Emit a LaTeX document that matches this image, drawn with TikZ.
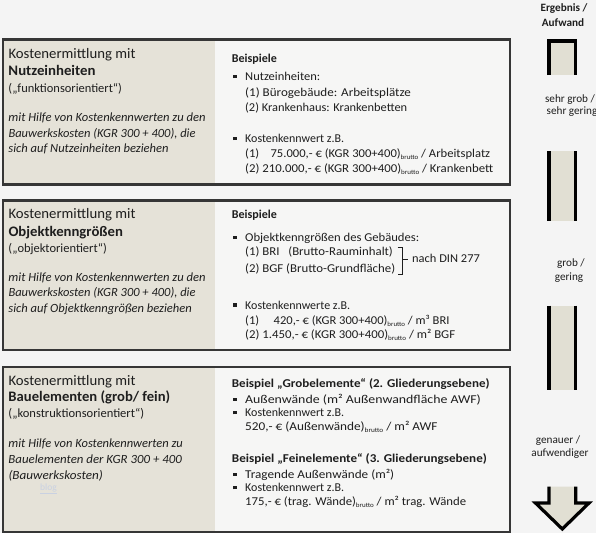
\documentclass[tikz,border=0pt]{standalone}
\usepackage{fontspec}
\usepackage{calc}
\usepackage{graphicx}
\setmainfont{Carlito}
\definecolor{bg}{HTML}{F4F4F4}
\definecolor{beige}{HTML}{E5E2D8}
\definecolor{arrowfill}{HTML}{E1DFD3}
\definecolor{panel}{HTML}{F6F6F5}
\definecolor{frame}{HTML}{363636}
\definecolor{ink}{HTML}{1E1E1E}
\definecolor{wm}{HTML}{C9D1E2}
\newcommand\brt{\raisebox{-2pt}{\fontsize{6.6}{6}\selectfont brutto}}
\newcommand\sqb{\makebox[12pt][l]{\raisebox{2.4pt}{\rule{3.3pt}{3.3pt}}}}
\newcommand\fitw[2]{\resizebox{#1pt}{\height}{#2}}
\tikzset{
  frm/.style={draw=frame, line width=2.2pt},
  ltxt/.style={anchor=base west, inner sep=0pt, text=ink, font=\fontsize{12.5}{14}\selectfont},
  litx/.style={ltxt, font=\fontsize{12.5}{14}\selectfont\itshape},
  lhead/.style={ltxt, font=\fontsize{14.5}{16}\selectfont},
  lbold/.style={ltxt, font=\fontsize{14.5}{16}\selectfont\bfseries},
  rtxt/.style={anchor=base west, inner sep=0pt, text=ink, font=\fontsize{12}{13}\selectfont},
  rbold/.style={rtxt, font=\fontsize{12}{13}\selectfont\bfseries},
  atxt/.style={anchor=base, inner sep=0pt, text=ink, font=\fontsize{11.2}{13}\selectfont},
  abold/.style={atxt, font=\fontsize{11.2}{13}\selectfont\bfseries},
  shaft/.style={draw=black, line width=3.2pt},
  shaftfill/.style={fill=arrowfill, draw=none},
}
\begin{document}
\begin{tikzpicture}[x=1pt,y=-1pt]
\useasboundingbox (0,0) rectangle (596,533);
\fill[bg] (0,0) rectangle (596,533);

% ---------- arrow column ----------
\filldraw[shaftfill] (549,41) -- (575.7,41) -- (575.7,75) -- (549,75) -- cycle;
\draw[shaft] (549,75) -- (549,41) -- (575.7,41) -- (575.7,75);
\filldraw[shaftfill] (549,151) -- (575.7,151) -- (575.7,221) -- (549,221) -- cycle;
\draw[shaft] (549,151) -- (549,221) (575.7,151) -- (575.7,221);
\filldraw[shaftfill] (549,305.7) -- (575.7,305.7) -- (575.7,390) -- (549,390) -- cycle;
\draw[shaft] (549,305.7) -- (549,390) (575.7,305.7) -- (575.7,390);
\filldraw[shaftfill] (549,486.7) -- (575.7,486.7) -- (575.7,503) -- (589,503) -- (562.3,529) -- (535.5,503) -- (549,503) -- cycle;
\draw[shaft] (549,486.7) -- (549,503) -- (535.5,503) -- (562.3,529) -- (589,503) -- (575.7,503) -- (575.7,486.7);

% ---------- boxes ----------
\foreach \tp/\bt in {39.5/184.5, 200.5/350.3, 367.2/531.7}{
  \fill[panel] (215,\tp) rectangle (509.7,\bt);
  \fill[beige] (2.7,\tp) rectangle (215,\bt);
  \draw[frm] (2.7,\tp) rectangle (509.7,\bt);
}

% ---------- box 1 ----------
\node[lhead] (a1) at (8.3,58.7) {\fitw{127}{Kostenermittlung mit}};
\node[lbold] (a2) at (8.3,75.6) {\fitw{87}{Nutzeinheiten}};
\node[ltxt]  (a3) at (8.3,92.4) {\fitw{113.5}{(„funktionsorientiert“)}};
\node[litx]  (a4) at (8.3,121.7) {\fitw{197}{mit Hilfe von Kostenkennwerten zu den}};
\node[litx]  (a5) at (8.3,137) {\fitw{187}{Bauwerkskosten (KGR 300 + 400), die}};
\node[litx]  (a6) at (8.3,152.4) {\fitw{160}{sich auf Nutzeinheiten beziehen}};

\node[rbold] (b1) at (231.7,62.5) {\fitw{45}{Beispiele}};
\node[rtxt]  (b2) at (233,80.6) {\sqb\fitw{75}{Nutzeinheiten:}};
\node[rtxt]  (b3) at (245,96.6) {\fitw{165.7}{(1) Bürogebäude: Arbeitsplätze}};
\node[rtxt]  (b4) at (245,111.9) {\fitw{162}{(2) Krankenhaus: Krankenbetten}};
\node[rtxt]  (b5) at (233,142.6) {\sqb\fitw{99}{Kostenkennwert z.B.}};
\node[rtxt]  (b6) at (245,157.8) {\fitw{245}{(1) \phantom{2}\,75.000,- € (KGR 300+400)\brt{} / Arbeitsplatz}};
\node[rtxt]  (b7) at (245,172.8) {\fitw{248}{(2) 210.000,- € (KGR 300+400)\brt{} / Krankenbett}};

% ---------- box 2 ----------
\node[lhead] (c1) at (8.3,218.8) {\fitw{127}{Kostenermittlung mit}};
\node[lbold] (c2) at (8.3,236) {\fitw{114.4}{Objektkenngrößen}};
\node[ltxt]  (c3) at (8.3,252.2) {\fitw{98.3}{(„objektorientiert“)}};
\node[litx]  (c4) at (8.3,281.4) {\fitw{197}{mit Hilfe von Kostenkennwerten zu den}};
\node[litx]  (c5) at (8.3,296.8) {\fitw{187}{Bauwerkskosten (KGR 300 + 400), die}};
\node[litx]  (c6) at (8.3,312.3) {\fitw{183.3}{sich auf Objektkenngrößen beziehen}};

\node[rbold] (d1) at (231.7,218.6) {\fitw{45}{Beispiele}};
\node[rtxt]  (d2) at (233,241.6) {\sqb\fitw{174}{Objektkenngrößen des Gebäudes:}};
\node[rtxt]  (d3) at (245,255.4) {\fitw{147.7}{(1) \makebox[\widthof{BGF}][l]{BRI}\, (Brutto-Rauminhalt)}};
\node[rtxt]  (d4) at (245,272.2) {\fitw{150}{(2) BGF (Brutto-Grundfläche)}};
\node[rtxt]  (d5) at (412,262.6) {\fitw{67.7}{nach DIN 277}};
\draw[ink, line width=0.9pt] (397.5,247.3) -- (402.8,247.3) -- (402.8,274.8) -- (397.5,274.8);
\draw[ink, line width=0.9pt] (402.8,259.5) -- (407.5,259.5);
\node[rtxt]  (d6) at (233,309) {\sqb\fitw{105}{Kostenkennwerte z.B.}};
\node[rtxt]  (d7) at (245,324) {\fitw{204.3}{(1) \phantom{1.}\,420,- € (KGR 300+400)\brt{} / m³ BRI}};
\node[rtxt]  (d8) at (245,338.4) {\fitw{210}{(2) 1.450,- € (KGR 300+400)\brt{} / m² BGF}};

% ---------- box 3 ----------
\node[lhead] (e1) at (8.3,385) {\fitw{127}{Kostenermittlung mit}};
\node[lbold] (e2) at (8.3,401.7) {\fitw{161.7}{Bauelementen (grob/ fein)}};
\node[ltxt]  (e3) at (8.3,417.3) {\fitw{135.7}{(„konstruktionsorientiert“)}};
\node[litx]  (e4) at (8.3,447.3) {\fitw{174.3}{mit Hilfe von Kostenkennwerten zu}};
\node[litx]  (e5) at (8.3,463.3) {\fitw{173.3}{Bauelementen der KGR 300 + 400}};
\node[litx]  (e6) at (8.3,479) {\fitw{94.3}{(Bauwerkskosten)}};
\node[anchor=base west, inner sep=0pt, text=wm, font=\fontsize{9.5}{11}\selectfont] (wmk) at (40,490) {\underline{blog}};

\node[rbold] (f1) at (231.7,387.7) {\fitw{257.7}{Beispiel „Grobelemente“ (2. Gliederungsebene)}};
\node[rtxt]  (f2) at (233,403.3) {\sqb\fitw{235.7}{Außenwände (m² Außenwandfläche AWF)}};
\node[rtxt]  (f3) at (233,416.7) {\sqb\fitw{99}{Kostenkennwert z.B.}};
\node[rtxt]  (f4) at (245,430) {\fitw{192.3}{520,- € (Außenwände)\brt{} / m² AWF}};
\node[rbold] (f5) at (231.7,462.7) {\fitw{255}{Beispiel „Feinelemente“ (3. Gliederungsebene)}};
\node[rtxt]  (f6) at (233,478.3) {\sqb\fitw{149}{Tragende Außenwände (m²)}};
\node[rtxt]  (f7) at (233,491.7) {\sqb\fitw{99}{Kostenkennwert z.B.}};
\node[rtxt]  (f8) at (245,505.7) {\fitw{221}{175,- € (trag. Wände)\brt{} / m² trag. Wände}};

\node[abold] (g1) at (564,11.8) {Ergebnis /};
\node[abold] (g2) at (563,26.7) {Aufwand};
\node[atxt]  (h1) at (570,102.3) {sehr grob /};
\node[atxt]  (h2) at (572,114.3) {sehr gering};
\node[atxt]  (h3) at (571,266.7) {grob /};
\node[atxt]  (h4) at (569,280) {gering};
\node[atxt]  (h5) at (558,443.3) {genauer /};
\node[atxt]  (h6) at (560,456.7) {aufwendiger};
\end{tikzpicture}
\end{document}
